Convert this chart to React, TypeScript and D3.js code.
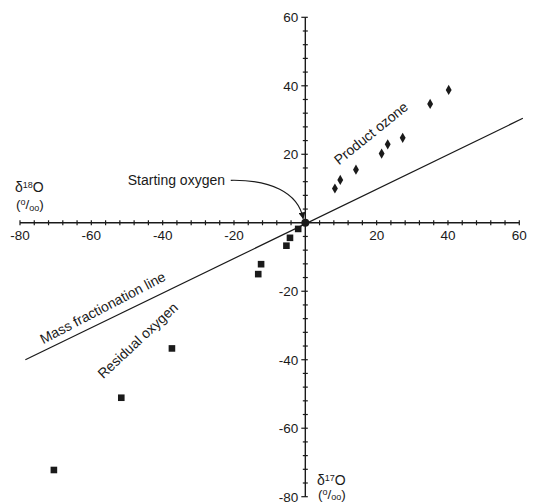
import React from "react";
import * as d3 from "d3";

const W = 533;
const H = 504;

const ozoneX = [8.3, 9.8, 14.2, 21.4, 23.1, 27.3, 35.0, 40.2];
const ozoneY = [10.0, 12.5, 15.5, 20.2, 22.9, 24.8, 34.7, 38.8];

const residualX = [-2.0, -4.3, -5.3, -12.4, -13.2, -37.4, -51.6, -70.5];
const residualY = [-1.8, -4.4, -6.7, -12.1, -15.0, -36.7, -51.1, -72.2];

const startX = [0];
const startY = [0];

const lineX = [-78.5, 61];
const lineY = [-40, 30.5];

const xMajor = [-80, -60, -40, -20, 20, 40, 60];
const yMajor = [-80, -60, -40, -20, 20, 40, 60];

const FONT = "'Liberation Sans', Arial, Helvetica, sans-serif";
const INK = "#1a1a1a";

export default function App() {
  const x = d3.scaleLinear().domain([-80, 60]).range([20, 519.3]);
  const y = d3.scaleLinear().domain([-80, 60]).range([496.7, 17.3]);
  const minor = d3.range(-80, 60.01, 4);
  const x0 = x(0);
  const y0 = y(0);
  const lineGen = d3
    .line<number>()
    .x((d) => x(lineX[d]))
    .y((d) => y(lineY[d]));
  const diamond = d3.symbol().type(d3.symbolDiamond).size(30)();

  const arrowStart: [number, number] = [x(-20.9), y(12.4)];
  const arrowC1: [number, number] = [x(-10), y(12.6)];
  const arrowC2: [number, number] = [x(-2), y(9)];
  const arrowEnd: [number, number] = [x(-0.6), y(1.2)];

  const permil = (px: number, py: number) => (
    <text x={px} y={py} fontSize={13.5} fontFamily={FONT} fill={INK}>
      (<tspan fontSize={9} dy={-4}>o</tspan>
      <tspan fontSize={13.5} dy={4}>/</tspan>
      <tspan fontSize={9} dy={1.5}>oo</tspan>
      <tspan fontSize={13.5} dy={-1.5}>)</tspan>
    </text>
  );

  return (
    <svg
      width={W}
      height={H}
      style={{ position: "absolute", left: 0, top: 0, background: "#fff" }}
    >
      <defs>
        <marker
          id="ah"
          viewBox="0 0 10 10"
          refX={9}
          refY={5}
          markerWidth={7}
          markerHeight={7}
          markerUnits="userSpaceOnUse"
          orient="auto"
        >
          <path d="M0,0 L10,5 L0,10 z" fill={INK} />
        </marker>
      </defs>

      {/* axes */}
      <line x1={x(-80)} x2={x(60)} y1={y0} y2={y0} stroke={INK} strokeWidth={1.4} />
      <line x1={x0} x2={x0} y1={y(60)} y2={y(-80)} stroke={INK} strokeWidth={1.4} />

      {minor.map((v) => (
        <line
          key={"xt" + v}
          x1={x(v)}
          x2={x(v)}
          y1={y0 - 2.5}
          y2={y0 + 2.5}
          stroke={INK}
          strokeWidth={1.2}
        />
      ))}
      {minor.map((v) => (
        <line
          key={"yt" + v}
          x1={x0 - (yMajor.includes(v) ? 4 : 2.5)}
          x2={x0 + 2.5}
          y1={y(v)}
          y2={y(v)}
          stroke={INK}
          strokeWidth={1.2}
        />
      ))}

      {xMajor.map((v) => (
        <text
          key={"xl" + v}
          x={x(v)}
          y={y0 + 17}
          fontSize={13.5}
          fontFamily={FONT}
          fill={INK}
          textAnchor="middle"
        >
          {v}
        </text>
      ))}
      {yMajor.map((v) => (
        <text
          key={"yl" + v}
          x={x0 - 7}
          y={y(v) + 5}
          fontSize={13.5}
          fontFamily={FONT}
          fill={INK}
          textAnchor="end"
        >
          {v}
        </text>
      ))}

      {/* mass fractionation line */}
      <path d={lineGen([0, 1]) || ""} fill="none" stroke={INK} strokeWidth={1.2} />

      {/* residual oxygen squares */}
      {residualX.map((v, i) => (
        <rect
          key={"r" + i}
          x={x(v) - 3.3}
          y={y(residualY[i]) - 3.3}
          width={6.6}
          height={6.6}
          fill={INK}
        />
      ))}

      {/* product ozone diamonds */}
      {ozoneX.map((v, i) => (
        <path
          key={"o" + i}
          d={diamond || ""}
          transform={`translate(${x(v)},${y(ozoneY[i])})`}
          fill={INK}
        />
      ))}

      {/* starting oxygen */}
      {startX.map((v, i) => (
        <circle key={"s" + i} cx={x(v)} cy={y(startY[i])} r={4} fill={INK} />
      ))}

      {/* arrow */}
      <path
        d={`M${arrowStart[0]},${arrowStart[1]} C${arrowC1[0]},${arrowC1[1]} ${arrowC2[0]},${arrowC2[1]} ${arrowEnd[0]},${arrowEnd[1]}`}
        fill="none"
        stroke={INK}
        strokeWidth={1.2}
        markerEnd="url(#ah)"
      />
      <text x={225} y={185} fontSize={14} fontFamily={FONT} fill={INK} textAnchor="end">
        Starting oxygen
      </text>

      <text
        transform="translate(374,137) rotate(-39)"
        fontSize={14}
        fontFamily={FONT}
        fill={INK}
        textAnchor="middle"
      >
        Product ozone
      </text>
      <text
        transform="translate(105,312) rotate(-27.5)"
        fontSize={14}
        fontFamily={FONT}
        fill={INK}
        textAnchor="middle"
      >
        Mass fractionation line
      </text>
      <text
        transform="translate(141,344) rotate(-43)"
        fontSize={14}
        fontFamily={FONT}
        fill={INK}
        textAnchor="middle"
      >
        Residual oxygen
      </text>

      {/* axis titles */}
      <text x={15} y={192} fontSize={14} fontFamily={FONT} fill={INK}>
        δ<tspan fontSize={9} dy={-4}>18</tspan>
        <tspan dy={4}>O</tspan>
      </text>
      {permil(16, 209)}

      <text x={317} y={485} fontSize={14} fontFamily={FONT} fill={INK}>
        δ<tspan fontSize={9} dy={-4}>17</tspan>
        <tspan dy={4}>O</tspan>
      </text>
      {permil(318, 498.5)}
    </svg>
  );
}
